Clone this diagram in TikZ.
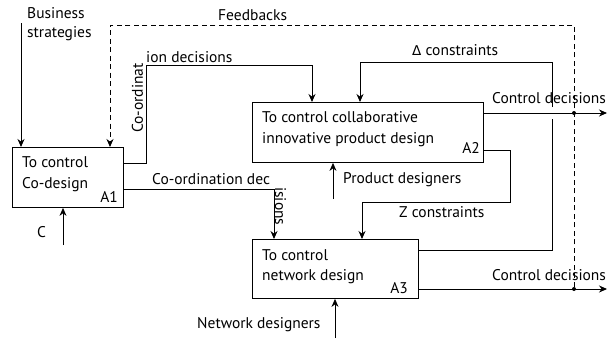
\documentclass[tikz,border=0pt]{standalone}
\usepackage{fontspec}
\setmainfont{PT Sans}
\newfontfamily\grkfont{DejaVu Sans}
\usetikzlibrary{arrows.meta,calc}
\begin{document}
\begin{tikzpicture}[x=1pt,y=-1pt,
  font=\fontsize{15.5}{19}\selectfont,
  box/.style={draw,line width=0.9pt,inner sep=0pt,anchor=north west},
  lbl/.style={inner sep=0pt},
  bw/.style={lbl,anchor=base west},
  be/.style={lbl,anchor=base east},
  conn/.style={line width=0.9pt},
  arr/.style={conn,-{Stealth[length=8pt,width=7pt]}},
  fb/.style={line width=0.9pt,dash pattern=on 5pt off 3.5pt},
  dotc/.style={circle,fill,inner sep=0pt,minimum size=4pt}]
\useasboundingbox (0,0) rectangle (609,338);
% boxes
\node[box,minimum width=111pt,minimum height=60pt] (A1) at (12,147) {};
\node[box,minimum width=231pt,minimum height=60pt] (A2) at (252,102) {};
\node[box,minimum width=166pt,minimum height=59pt] (A3) at (252,239) {};
% box texts
\node[bw] (t1a) at (22,167) {To control};
\node[bw] (t1b) at (22,188) {Co-design};
\node[be] (n1) at (118,202) {A1};
\node[bw] (t2a) at (262,122) {To control collaborative};
\node[bw] (t2b) at (262,143) {innovative product design};
\node[be] (n2) at (480,153) {A2};
\node[bw] (t3a) at (262,260) {To control};
\node[bw] (t3b) at (262,280) {network design};
\node[be] (n3) at (408,293) {A3};
% Business strategies
\coordinate (bs) at (21,23);
\draw[arr] (bs) -- (A1.north west -| bs);
\node[bw] (bsa) at (27,18) {Business};
\node[bw] (bsb) at (27,37) {strategies};
% Feedbacks
\coordinate (f1) at (110,25);
\coordinate (f2) at (574,25);
\node[dotc] (d2) at (574,113) {};
\node[dotc] (d3) at (574,289) {};
\draw[fb,-{Stealth[length=8pt,width=7pt]}] (d3) -- (f2) -- (f1) -- (A1.north west -| f1);
\node[bw] (fbt) at (218,20) {Feedbacks};
% Co-ordination decisions to A2
\coordinate (c1) at (146,65);
\coordinate (c2) at (312,65);
\draw[arr] (A1.east |- 0,163) -| (c1) -- (c2) -- (A2.north west -| c2);
\node[lbl,rotate=90,anchor=west] (cot) at (137.5,133) {Co-ordinat};
\node[bw] (cot2) at (146,62) {ion decisions};
% Co-ordination decisions to A3
\coordinate (e1) at (274,189);
\draw[arr] (A1.east |- 0,189) -- (e1) -- (A3.north west -| e1);
\node[bw] (cd) at (152,184) {Co-ordination dec};
\node[lbl,rotate=-90,anchor=west] (cd2) at (280.5,187) {isions};
% Delta constraints
\coordinate (g1) at (552,250);
\coordinate (g2) at (552,62);
\coordinate (g3) at (360,62);
\coordinate (gb1) at (552,119);
\coordinate (gb2) at (552,107);
\draw[conn] (A3.east |- g1) -- (g1) -- (gb1);
\draw[arr] (gb2) -- (g2) -- (g3) -- (A2.north west -| g3);
\node[bw] (dt) at (412,55) {{\grkfont\fontsize{13.5}{16}\selectfont Δ} constraints};
% Control decisions A2
\coordinate (o2) at (607,113);
\draw[arr] (A2.east |- o2) -- (o2);
\node[bw] (cdt2) at (492,103) {Control decisions};
% Control decisions A3
\coordinate (o3) at (607,289);
\draw[arr] (A3.east |- o3) -- (o3);
\node[bw] (cdt3) at (492,280) {Control decisions};
% Z constraints
\coordinate (z1) at (510,150);
\coordinate (z2) at (510,202);
\coordinate (z3) at (362,202);
\draw[arr] (A2.east |- z1) -- (z1) -- (z2) -- (z3) -- (A3.north west -| z3);
\node[bw] (zt) at (399,217) {Z constraints};
% Product designers
\coordinate (p1) at (333,199);
\draw[arr] (p1) -- (A2.south west -| p1);
\node[bw] (pt) at (343,183) {Product designers};
% Network designers
\coordinate (nd) at (335,338);
\draw[arr] (nd) -- (A3.south west -| nd);
\node[bw] (ndt) at (197,328) {Network designers};
% C
\coordinate (cc) at (63,245);
\draw[arr] (cc) -- (A1.south west -| cc);
\node[bw] (ct) at (37,237) {C};
\end{tikzpicture}
\end{document}
